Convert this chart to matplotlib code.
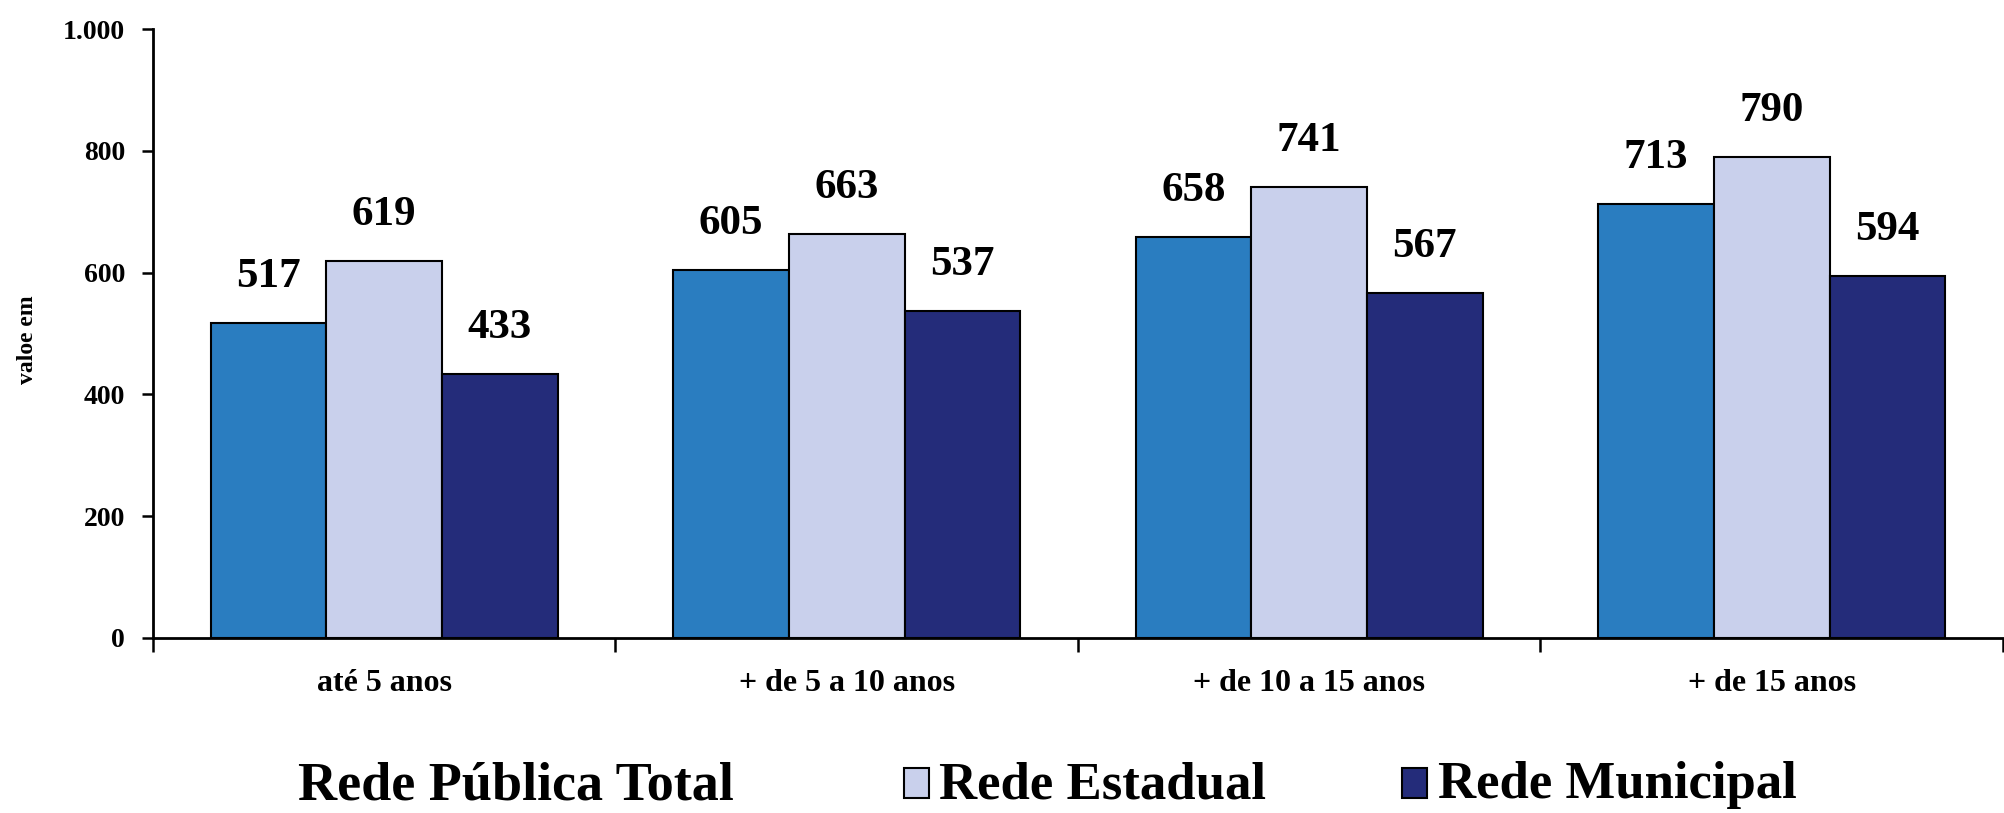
import matplotlib
matplotlib.use("Agg")
import matplotlib.pyplot as plt
from matplotlib.patches import Rectangle
import numpy as np

categories = ["até 5 anos", "+ de 5 a 10 anos", "+ de 10 a 15 anos", "+ de 15 anos"]
series_names = ["Rede Pública Total", "Rede Estadual", "Rede Municipal"]
total = [517, 605, 658, 713]
estadual = [619, 663, 741, 790]
municipal = [433, 537, 567, 594]
y_ticks = [0, 200, 400, 600, 800, 1000]
y_tick_labels = ["0", "200", "400", "600", "800", "1.000"]
y_label = "valoe em"

colors = ["#2a7dc0", "#c9d0ec", "#242c7a"]
FONT = "Liberation Serif"

fig = plt.figure(figsize=(20.04, 8.13), dpi=100)
ax = fig.add_axes([0.0763, 0.2153, 0.9232, 0.749])

x = np.arange(len(categories)) + 0.5
w = 0.25
for i, (vals, col) in enumerate(zip([total, estadual, municipal], colors)):
    bars = ax.bar(x + (i - 1) * w, vals, width=w, color=col, edgecolor="black", linewidth=1.5, zorder=3)
    for b, v in zip(bars, vals):
        ax.annotate(str(v), (b.get_x() + b.get_width() / 2, v), xytext=(0, 33),
                    textcoords="offset points", ha="center", va="center",
                    fontsize=31, fontweight="bold", family=FONT)

ax.set_xlim(0, 4)
ax.set_ylim(0, 1000)
ax.set_yticks(y_ticks)
ax.set_yticklabels(y_tick_labels, fontsize=20, fontweight="bold", family=FONT)
ax.set_xticks(np.arange(0, 5))
ax.set_xticklabels([])
ax.set_xticks(x, minor=True)
ax.set_xticklabels(categories, minor=True, fontsize=23, fontweight="bold", family=FONT)
ax.tick_params(axis="x", which="minor", length=0, pad=22)
ax.tick_params(axis="x", which="major", length=10, width=1.8, direction="out")
ax.tick_params(axis="y", length=8, width=1.8, direction="out", pad=12)
for s in ["top", "right"]:
    ax.spines[s].set_visible(False)
for s in ["left", "bottom"]:
    ax.spines[s].set_linewidth(2)
ax.set_ylabel(y_label, fontsize=17, fontweight="bold", family=FONT)
ax.yaxis.set_label_coords(-0.062, 0.49)

# legend row
fig.text(516 / 2004, 1 - 811 / 813, series_names[0], ha="center", va="bottom",
         fontsize=39, fontweight="bold", family=FONT)
for name, col, px, tx in [(series_names[1], colors[1], 904, 939), (series_names[2], colors[2], 1402, 1438)]:
    fig.add_artist(Rectangle((px / 2004, 1 - 798 / 813), 25 / 2004, 30 / 813,
                             transform=fig.transFigure, facecolor=col, edgecolor="black", linewidth=1.5))
    fig.text(tx / 2004, 1 - 798 / 813, name, ha="left", va="baseline",
             fontsize=38, fontweight="bold", family=FONT)

fig.savefig("out.png", dpi=100)
